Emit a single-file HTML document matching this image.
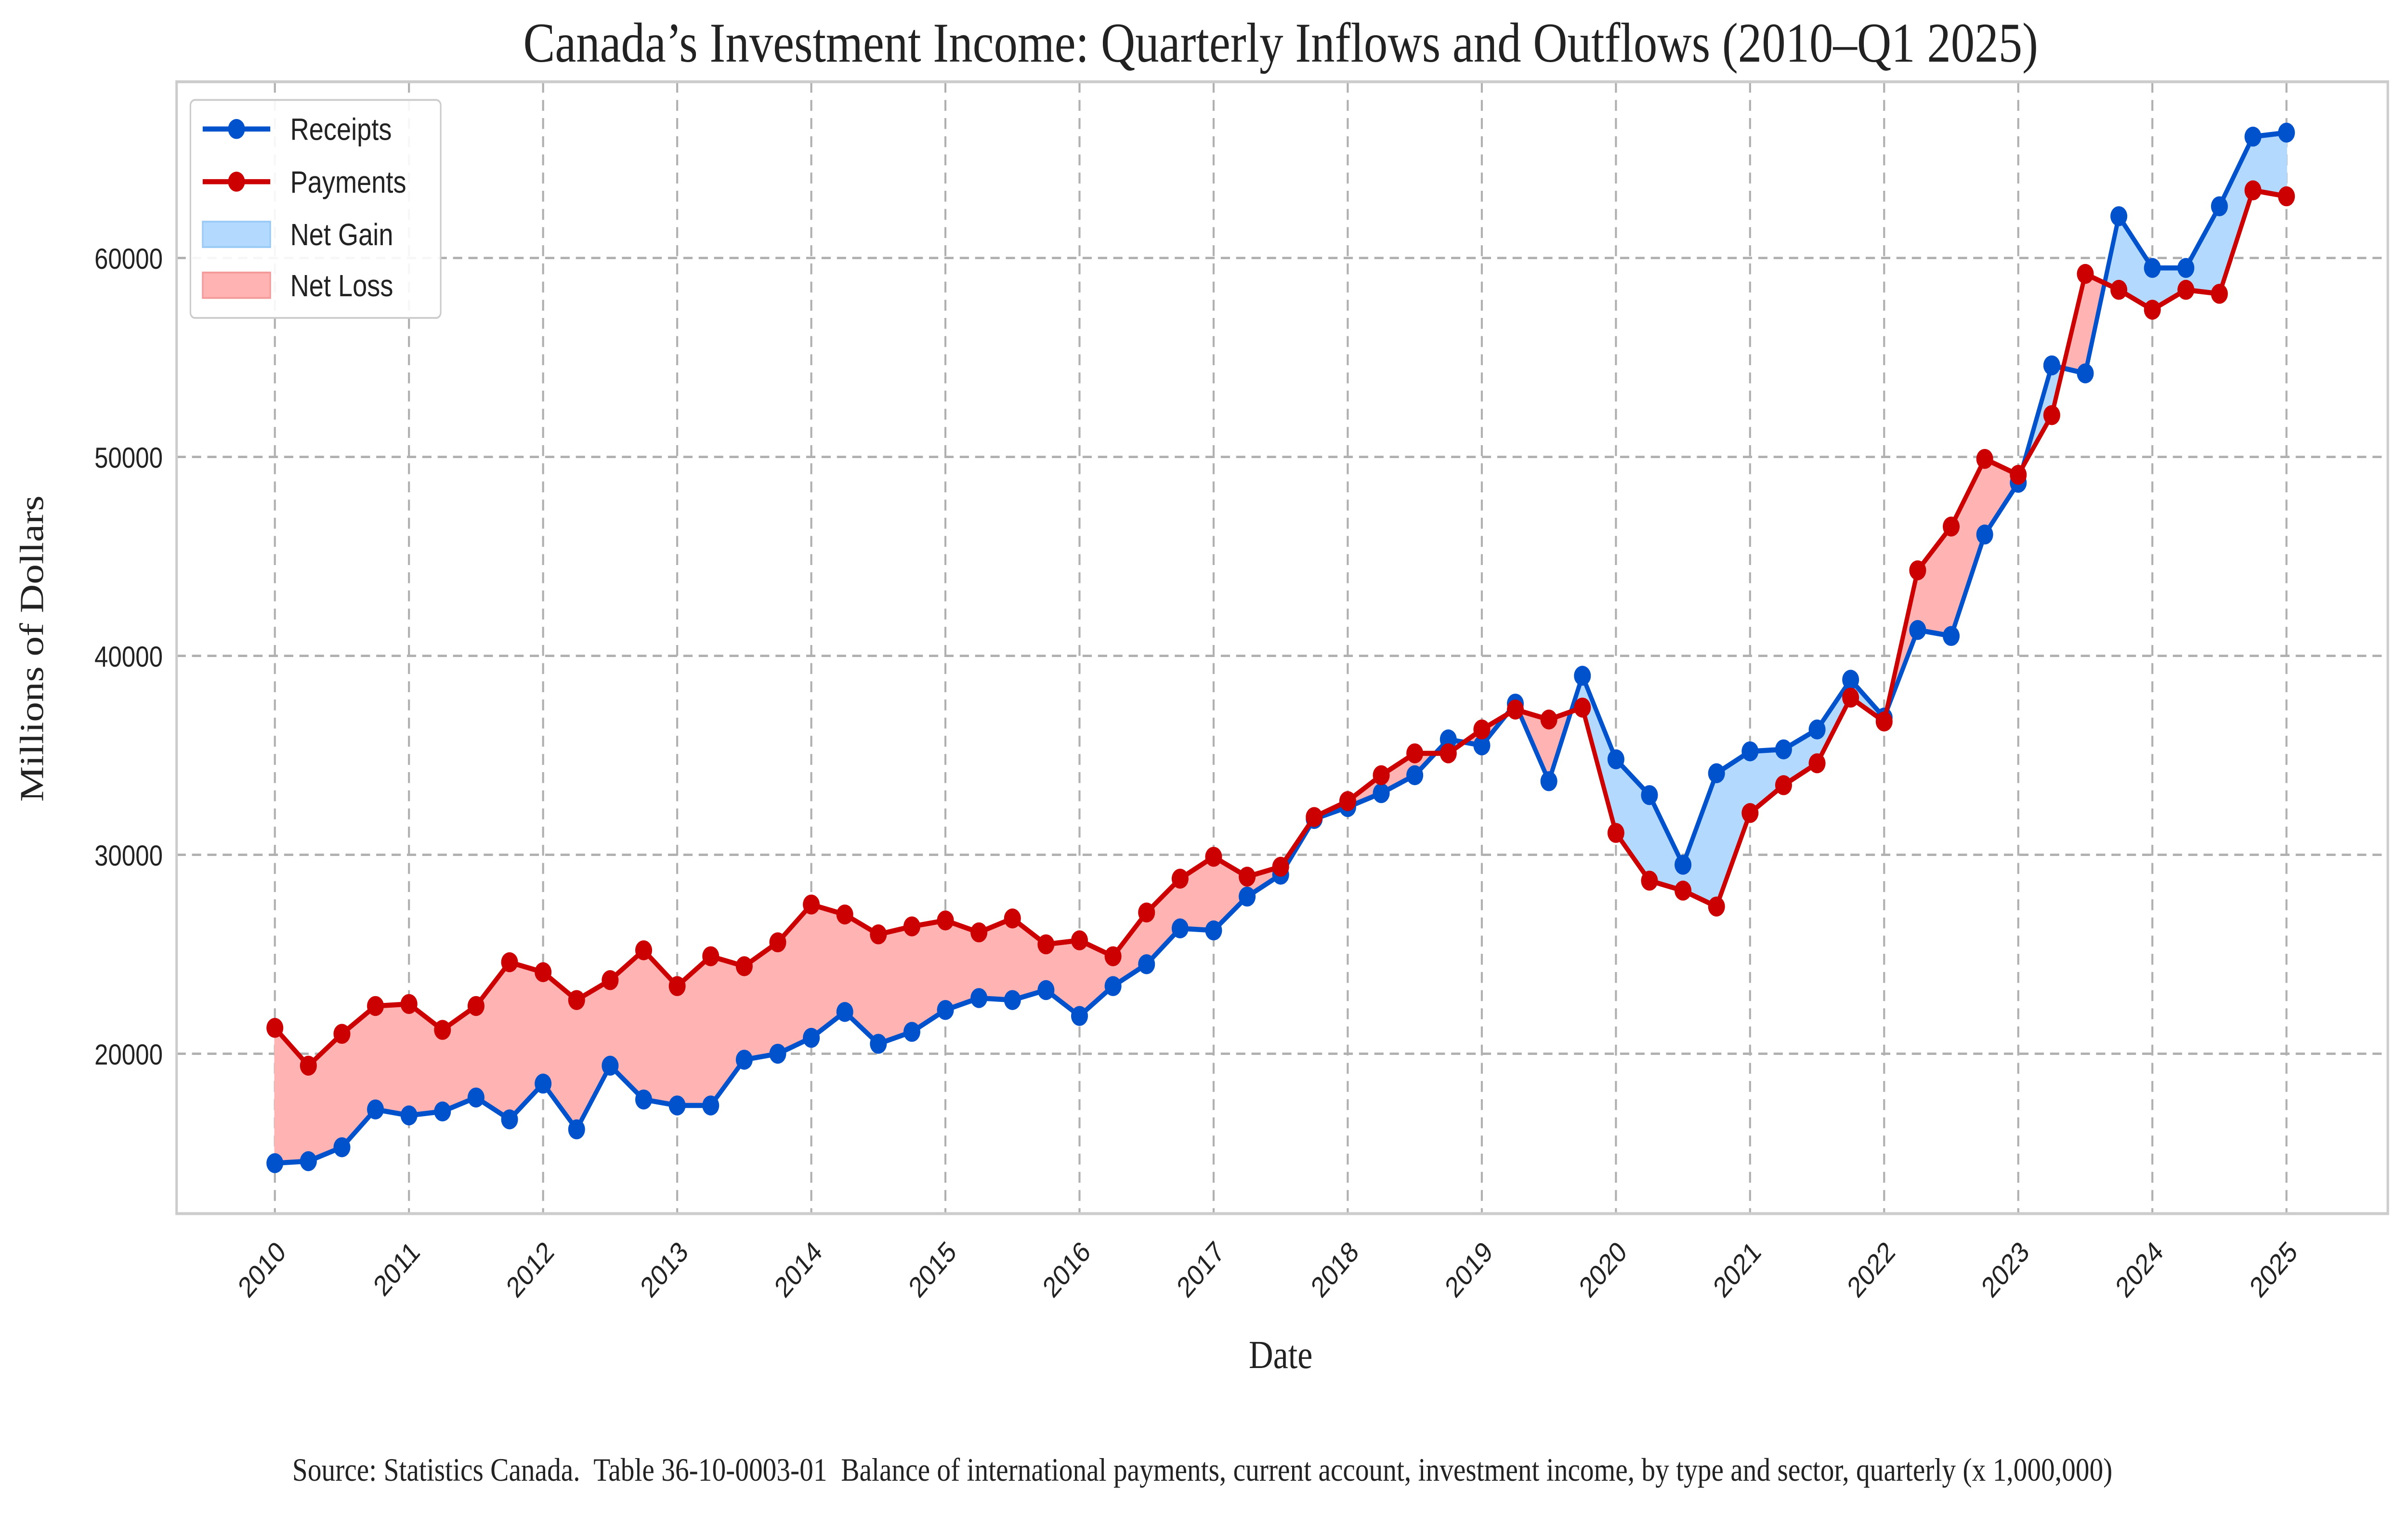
<!DOCTYPE html>
<html><head><meta charset="utf-8">
<style>html,body{margin:0;padding:0;background:#fff;overflow:hidden;}svg{display:block;}</style>
</head><body>
<svg id="chart" width="5000" height="3141" xmlns="http://www.w3.org/2000/svg">
<g transform="scale(3.1885,3.7717)">
<rect x="0" y="0" width="1568" height="832.77" fill="#fff"/>
<text x="834" y="34" text-anchor="middle" font-family="Liberation Serif, serif" font-size="31" fill="#222">Canada’s Investment Income: Quarterly Inflows and Outflows (2010–Q1 2025)</text>
<g id="grid"></g>
<g id="fills"></g>
<g id="lines"></g>
<rect x="115" y="45" width="1440" height="623" fill="none" stroke="#ccc" stroke-width="1.6"/>
<g id="ticks"></g>
<text x="834" y="753" text-anchor="middle" font-family="Liberation Serif, serif" font-size="22" fill="#222">Date</text>
<text transform="translate(28,357) rotate(-90)" text-anchor="middle" font-family="Liberation Serif, serif" font-size="22" fill="#222">Millions of Dollars</text>
<text x="783" y="815" text-anchor="middle" font-family="Liberation Serif, serif" font-size="18" fill="#222" xml:space="preserve">Source: Statistics Canada.  Table 36-10-0003-01  Balance of international payments, current account, investment income, by type and sector, quarterly (x 1,000,000)</text>
<g>
<rect x="124" y="55" width="163" height="120" rx="3" fill="#fff" fill-opacity="0.9" stroke="#ccc"/>
<g><line x1="132" y1="71" x2="176" y2="71" stroke="#0052cc" stroke-width="2.8"/><circle cx="154" cy="71" r="5.5" fill="#0052cc"/><text x="189" y="77" font-family="Liberation Sans, sans-serif" font-size="17" fill="#222">Receipts</text></g>
<g><line x1="132" y1="100" x2="176" y2="100" stroke="#cc0000" stroke-width="2.8"/><circle cx="154" cy="100" r="5.5" fill="#cc0000"/><text x="189" y="106" font-family="Liberation Sans, sans-serif" font-size="17" fill="#222">Payments</text></g>
<g><rect x="132" y="122" width="44" height="14" fill="#b3d9ff" stroke="#99c9f5"/><text x="189" y="135" font-family="Liberation Sans, sans-serif" font-size="17" fill="#222">Net Gain</text></g>
<g><rect x="132" y="150" width="44" height="14" fill="#ffb3b3" stroke="#f59a9a"/><text x="189" y="163" font-family="Liberation Sans, sans-serif" font-size="17" fill="#222">Net Loss</text></g>
</g>
</g>
</svg>
<script>
const years = [2010,2011,2012,2013,2014,2015,2016,2017,2018,2019,2020,2021,2022,2023,2024,2025];
const yTicks = [20000,30000,40000,50000,60000];
const receipts = [14500,14600,15300,17200,16900,17100,17800,16700,18500,16200,19400,17700,17400,17400,19700,20000,20800,22100,20500,21100,22200,22800,22700,23200,21900,23400,24500,26300,26200,27900,29000,31800,32400,33100,34000,35800,35500,37600,33700,39000,34800,33000,29500,34100,35200,35300,36300,38800,36900,41300,41000,46100,48700,54600,54200,62100,59500,59500,62600,66100,66300];
const payments = [21300,19400,21000,22400,22500,21200,22400,24600,24100,22700,23700,25200,23400,24900,24400,25600,27500,27000,26000,26400,26700,26100,26800,25500,25700,24900,27100,28800,29900,28900,29400,31900,32700,34000,35100,35100,36300,37300,36800,37400,31100,28700,28200,27400,32100,33500,34600,37900,36700,44300,46500,49900,49100,52100,59200,58400,57400,58400,58200,63400,63100];
const NS='http://www.w3.org/2000/svg';
const xs = t => 179 + (t-2010)*87.333;
const ys = v => 580 - (v-20000)*0.01095;
function mk(tag, attrs, parent){const e=document.createElementNS(NS,tag);for(const k in attrs)e.setAttribute(k,attrs[k]);parent.appendChild(e);return e;}
const grid=document.getElementById('grid'), ticks=document.getElementById('ticks');
years.forEach(y=>{
  const g=mk('line',{x1:xs(y),x2:xs(y),y1:45,y2:668,stroke:'#b0b0b0','stroke-width':1.3,'stroke-dasharray':'6,4'},grid);
  
  
  const t=mk('text',{transform:`translate(${xs(y)+8},${690}) rotate(-45)`,'text-anchor':'end','font-family':'Liberation Sans, sans-serif','font-size':16,fill:'#222'},ticks);
  t.textContent=y;
  
  
});
yTicks.forEach(v=>{
  const g=mk('line',{x1:115,x2:1555,y1:ys(v),y2:ys(v),stroke:'#b0b0b0','stroke-width':1.3,'stroke-dasharray':'6,4'},grid);
  
  
  const t=mk('text',{x:106,y:ys(v)+6,'text-anchor':'end','font-family':'Liberation Sans, sans-serif','font-size':16,fill:'#222'},ticks);
  t.textContent=v;
  
  
});
const fills=document.getElementById('fills');
const n=receipts.length;
const tq=i=>2010+i*0.25;
let segs=[];
let cur=null, curSign=null;
for(let i=0;i<n;i++){
  const d=receipts[i]-payments[i];
  const s=d>=0;
  if(cur===null){cur=[[tq(i),receipts[i],payments[i]]];curSign=s;continue;}
  if(s!==curSign){
    const dp=receipts[i-1]-payments[i-1];
    const f=dp/(dp-d);
    const t=tq(i-1)+0.25*f;
    const v=receipts[i-1]+(receipts[i]-receipts[i-1])*f;
    cur.push([t,v,v]);segs.push([cur,curSign]);
    cur=[[t,v,v]];curSign=s;
  }
  cur.push([tq(i),receipts[i],payments[i]]);
}
segs.push([cur,curSign]);
segs.forEach(([pts,gain])=>{
  let d='M'+pts.map(p=>xs(p[0])+','+ys(p[1])).join('L');
  d+='L'+pts.slice().reverse().map(p=>xs(p[0])+','+ys(p[2])).join('L')+'Z';
  const e=mk('path',{d:d,fill:gain?'#b3d9ff':'#ffb3b3',stroke:gain?'#b3d9ff':'#ffb3b3','stroke-width':0.8},fills);
  
  
});
const lines=document.getElementById('lines');
[[receipts,'#0052cc','receipts'],[payments,'#cc0000','payments']].forEach(([arr,col,name])=>{
  const pl=mk('polyline',{points:arr.map((v,i)=>xs(tq(i))+','+ys(v)).join(' '),fill:'none',stroke:col,'stroke-width':2.8,'stroke-linejoin':'round'},lines);
  
  
  arr.forEach((v,i)=>{
    const c=mk('circle',{cx:xs(tq(i)),cy:ys(v),r:5.5,fill:col},lines);
    
    
  });
});
</script>
</body></html>
